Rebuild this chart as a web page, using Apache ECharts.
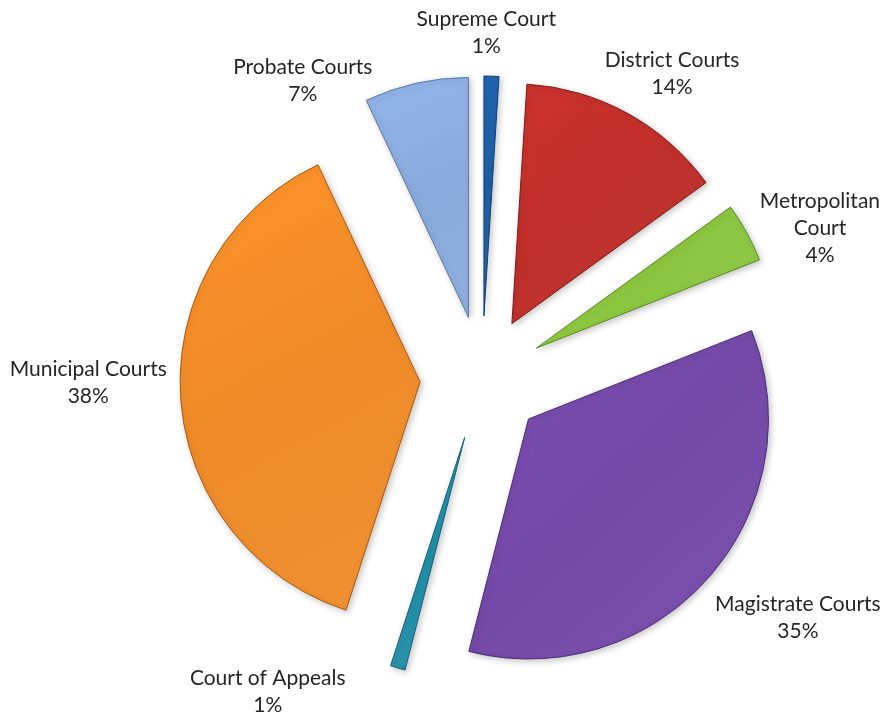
<!DOCTYPE html>
<html lang="en">
<head>
    <meta charset="UTF-8"/>
    <title>Court Caseload Share</title>
    <script src="https://cdn.jsdelivr.net/npm/echarts@6/dist/echarts.min.js"></script>
    <style>
        html, body { margin: 0; padding: 0; background: #ffffff; }
        #main { width: 887px; height: 717px; }
    </style>
</head>
<body>

<div id="main"></div>
<script type="text/javascript">

    // chart data
    var courts = ['Supreme Court', 'District Courts', 'Metropolitan\nCourt', 'Magistrate Courts',
                  'Court of Appeals', 'Municipal Courts', 'Probate Courts'];
    var shares = [1, 14, 4, 35, 1, 38, 7];

    // styling
    var sliceColors = ['#1d5fa5', '#bf2f2a', '#8bc53f', '#7449a8', '#1f8ea8', '#ef8a28', '#89aadc'];
    var edgeColors  = ['#143f72', '#7e1b18', '#5c8a22', '#4a2d73', '#1a5f73', '#a85a0e', '#5a78a8'];
    // hand nudges so labels sit where the original put them
    var labelNudge = [[-8, 3], [3, 1], [4, 24], [13, 10], [-103, -20], [5, -17], [-94, 42]];

    var cx = 482, cy = 378, radius = 240, explode = 62, labelGap = 19;
    var total = shares.reduce(function (a, b) { return a + b; }, 0);

    var myChart = echarts.init(document.getElementById('main'));

    var sliceData = courts.map(function (name, i) {
        return {
            name: name,
            value: shares[i],
            selected: true,
            itemStyle: {
                color: {
                    type: 'linear', x: 0, y: 0, x2: 1, y2: 1,
                    colorStops: [
                        {offset: 0, color: echarts.color.lift(sliceColors[i], -0.07)},
                        {offset: 0.5, color: sliceColors[i]},
                        {offset: 1, color: echarts.color.lift(sliceColors[i], 0.06)}
                    ]
                },
                borderColor: edgeColors[i]
            }
        };
    });

    var labelData = courts.map(function (name, i) {
        return {name: name, value: shares[i]};
    });

    var option = {
        backgroundColor: '#ffffff',
        animation: false,
        series: [
            {
                name: 'Courts',
                type: 'pie',
                center: [cx, cy],
                radius: radius,
                startAngle: 90,
                selectedMode: 'multiple',
                selectedOffset: explode,
                data: sliceData,
                itemStyle: {
                    borderWidth: 1,
                    shadowBlur: 6,
                    shadowOffsetX: 2,
                    shadowOffsetY: 2,
                    shadowColor: 'rgba(0, 0, 0, 0.22)'
                },
                label: { show: false },
                labelLine: { show: false },
                emphasis: { disabled: true }
            },
            {
                // transparent twin that only carries the labels
                name: 'Labels',
                type: 'pie',
                silent: true,
                center: [cx, cy],
                radius: radius,
                startAngle: 90,
                avoidLabelOverlap: false,
                data: labelData,
                itemStyle: { color: 'rgba(0,0,0,0)', borderWidth: 0 },
                label: {
                    show: true,
                    position: 'outside',
                    formatter: '{b}\n{d}%',
                    fontFamily: 'Lato',
                    fontSize: 21,
                    lineHeight: 27,
                    color: '#262626',
                    align: 'center'
                },
                labelLine: { show: false },
                labelLayout: function (p) {
                    var i = p.dataIndex;
                    var before = 0;
                    for (var k = 0; k < i; k++) before += shares[k];
                    var mid = (before + shares[i] / 2) / total * Math.PI * 2;
                    var dx = Math.sin(mid), dy = -Math.cos(mid);
                    var r = radius + explode + labelGap;
                    var w = p.labelRect.width, h = p.labelRect.height;
                    return {
                        x: cx + r * dx + dx * w / 2 + labelNudge[i][0],
                        y: cy + r * dy + dy * h / 2 + labelNudge[i][1],
                        align: 'center',
                        verticalAlign: 'middle'
                    };
                },
                emphasis: { disabled: true }
            }
        ]
    };

    myChart.setOption(option);
</script>

</body>
</html>
